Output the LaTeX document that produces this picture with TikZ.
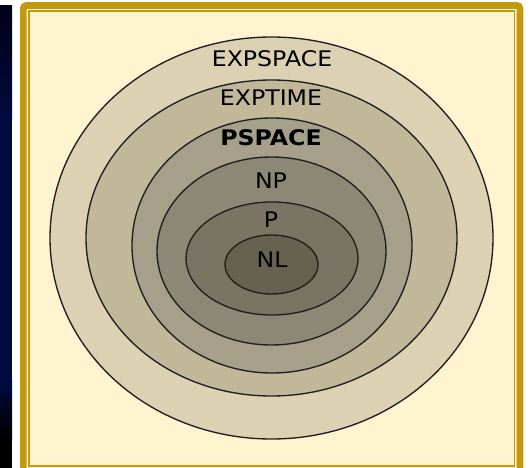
\documentclass[tikz,border=0pt]{standalone}
\usepackage{fontspec}
\setmainfont{DejaVu Sans}
\definecolor{cream}{HTML}{FFF3D0}
\definecolor{gold}{HTML}{C29A0E}
\definecolor{navy}{HTML}{000B40}
\definecolor{navytop}{HTML}{000018}
\definecolor{cexpspace}{HTML}{DCD2B3}
\definecolor{cexptime}{HTML}{C1B89A}
\definecolor{cpspace}{HTML}{A6A08A}
\definecolor{cnp}{HTML}{8D8875}
\definecolor{cp}{HTML}{7A7563}
\definecolor{cnl}{HTML}{66624F}
\tikzset{
  ring/.style={draw=black!88, line width=1.35pt},
  lbl/.style={anchor=base, inner sep=0pt, font=\fontsize{21.5}{26}\selectfont},
}
\newcommand{\wid}[1]{\scalebox{1.1}[1]{#1}}
\begin{document}
\begin{tikzpicture}[x=1pt,y=-1pt]
\useasboundingbox (0,0) rectangle (530,468);
\fill[white] (0,0) rectangle (530,468);
% dark strip
\shade[top color=navytop, bottom color=navy] (0,6) rectangle (12,120);
\fill[navy] (0,119.5) rectangle (12,380.5);
\shade[top color=navy, bottom color=black] (0,380) rectangle (12,440);
\fill[black] (0,439.5) rectangle (12,468);
% frame
\fill[cream] (24,6) rectangle (519,472);
\draw[gold, line width=6.7pt, rounded corners=3pt] (23.35,5.5) rectangle (520,490);
\draw[gold, line width=1.6pt] (29,11) rectangle (514.3,466);
% ellipses
\draw[ring, fill=cexpspace] (271.5,238) ellipse [x radius=221.5pt, y radius=201pt];
\draw[ring, fill=cexptime] (271.5,238) ellipse [x radius=185.5pt, y radius=158pt];
\draw[ring, fill=cpspace] (272,245.5) ellipse [x radius=140pt, y radius=127.5pt];
\draw[ring, fill=cnp] (271.5,251) ellipse [x radius=114.5pt, y radius=94pt];
\draw[ring, fill=cp] (272,258.5) ellipse [x radius=86pt, y radius=56.5pt];
\draw[ring, fill=cnl] (271.5,264.5) ellipse [x radius=46.5pt, y radius=29.5pt];
% labels
\node[lbl] (expspace) at (272,67) {\wid{EXPSPACE}};
\node[lbl] (exptime) at (271,106) {\wid{EXPTIME}};
\node[lbl] (pspace) at (271,146) {\wid{\bfseries PSPACE}};
\node[lbl] (np) at (271,188) {\wid{NP}};
\node[lbl] (p) at (271,227) {\wid{P}};
\node[lbl] (nl) at (272,267) {\wid{NL}};
\end{tikzpicture}
\end{document}
